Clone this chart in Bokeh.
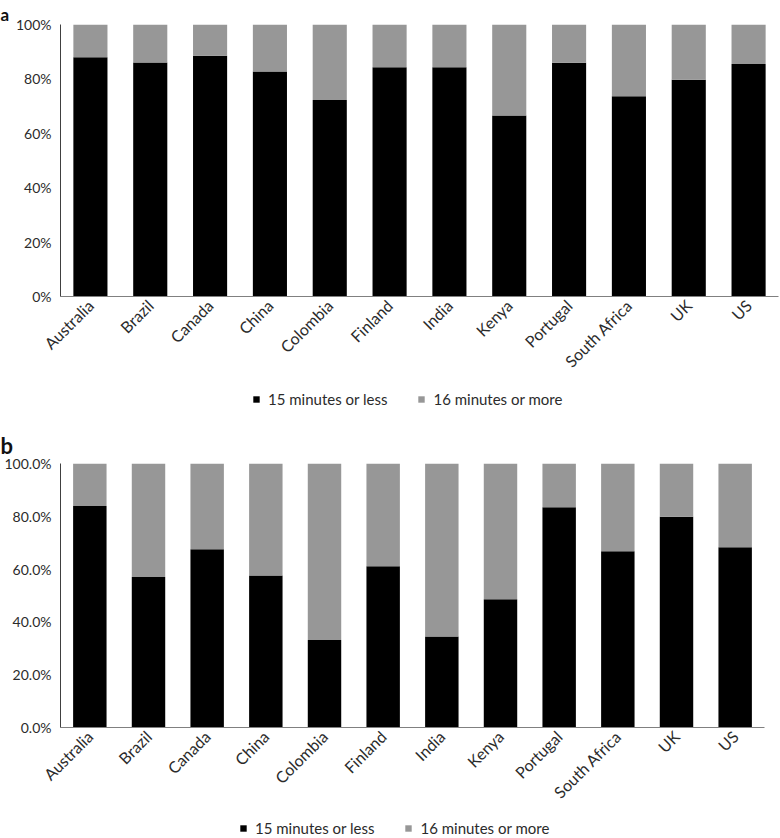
from bokeh.plotting import figure
from bokeh.models import (FactorRange, Range1d, FixedTicker, NumeralTickFormatter,
                          Legend, LegendItem)
from bokeh.layouts import column
from bokeh.embed import file_html
from bokeh.resources import INLINE

countries = ["Australia", "Brazil", "Canada", "China", "Colombia", "Finland",
             "India", "Kenya", "Portugal", "South Africa", "UK", "US"]
series_names = ["15 minutes or less", "16 minutes or more"]

# Panel a shares
a_less = [0.880, 0.860, 0.885, 0.827, 0.722, 0.843, 0.843, 0.665, 0.859, 0.736, 0.797, 0.855]
a_more = [0.120, 0.140, 0.115, 0.173, 0.278, 0.157, 0.157, 0.335, 0.141, 0.264, 0.203, 0.145]

# Panel b shares
b_less = [0.839, 0.570, 0.675, 0.576, 0.331, 0.611, 0.345, 0.486, 0.834, 0.668, 0.798, 0.683]
b_more = [0.161, 0.430, 0.325, 0.424, 0.669, 0.389, 0.655, 0.514, 0.166, 0.332, 0.202, 0.317]

y_ticks = [0, 0.2, 0.4, 0.6, 0.8, 1.0]

FONT = "Lato"
TXT = "#2b2b2b"
COLORS = ["#000000", "#979797"]
W = 780


def make_panel(letter, less, more, fmt, frame_w, frame_h, top, bottom, right,
               title_size, title_lh, title_standoff):
    p = figure(x_range=FactorRange(*countries), y_range=Range1d(0, 1),
               frame_width=frame_w, frame_height=frame_h,
               min_border_left=60, min_border_right=right,
               min_border_top=top, min_border_bottom=bottom,
               output_backend="svg", toolbar_location=None)
    data = {"country": countries, "less": less, "more": more}
    p.vbar_stack(["less", "more"], x="country", width=0.57, color=COLORS,
                 line_color=None, source=data)
    p.xgrid.grid_line_color = None
    p.ygrid.grid_line_color = None
    p.outline_line_color = None

    p.yaxis.ticker = FixedTicker(ticks=y_ticks)
    p.yaxis.formatter = NumeralTickFormatter(format=fmt)
    p.yaxis.axis_line_color = "#404040"
    p.xaxis.axis_line_color = "#808080"
    for ax in (p.xaxis[0], p.yaxis[0]):
        ax.major_tick_line_color = None
        ax.minor_tick_line_color = None
        ax.major_tick_out = 0
        ax.major_tick_in = 0
        ax.minor_tick_out = 0
        ax.major_label_text_font = FONT
        ax.major_label_text_color = TXT
    p.yaxis.major_label_text_font_size = "14px"
    p.xaxis.major_label_text_font_size = "16px"
    p.yaxis.major_label_standoff = 9
    p.xaxis.major_label_standoff = 6
    p.xaxis.major_label_orientation = 0.785398

    p.title.text = letter
    p.title.align = "left"
    p.title.offset = -60
    p.title.text_font = FONT
    p.title.text_font_style = "bold"
    p.title.text_font_size = title_size
    p.title.text_line_height = title_lh
    p.title.text_color = "#111111"
    p.title.standoff = title_standoff
    return p


def make_legend(less, more, height, x, y):
    # legend strip: the same stacked bars sit outside the visible y range,
    # only their legend keys are shown
    lf = figure(x_range=FactorRange(*countries), y_range=Range1d(2, 3),
                frame_width=W, frame_height=height,
                min_border=0, x_axis_type=None, y_axis_type=None,
                output_backend="svg", toolbar_location=None)
    lf.outline_line_color = None
    lf.xgrid.grid_line_color = None
    lf.ygrid.grid_line_color = None
    data = {"country": countries, "less": less, "more": more}
    rs = lf.vbar_stack(["less", "more"], x="country", width=0.57, color=COLORS,
                       line_color=None, source=data)
    legend = Legend(items=[LegendItem(label=series_names[0], renderers=[rs[0]]),
                           LegendItem(label=series_names[1], renderers=[rs[1]])],
                    orientation="horizontal", location=(x, y),
                    border_line_color=None, background_fill_alpha=0,
                    padding=0, margin=0, spacing=30, label_standoff=8,
                    glyph_width=8, glyph_height=8, label_height=16,
                    label_text_font=FONT, label_text_font_size="15px",
                    label_text_color=TXT)
    lf.add_layout(legend, "center")
    return lf


pa = make_panel("a", a_less, a_more, "0%", 718, 272, 24, 84, 2, "17px", 0.7, 0)
leg_a = make_legend(a_less, a_more, 40, 252, 12)
pb = make_panel("b", b_less, b_more, "0.0%", 704, 264, 43, 78, 16, "22px", 0.8, 10)
leg_b = make_legend(b_less, b_more, 32, 239, 6)

layout = column(pa, leg_a, pb, leg_b, spacing=0)
open("out.html", "w").write(file_html(layout, INLINE))
